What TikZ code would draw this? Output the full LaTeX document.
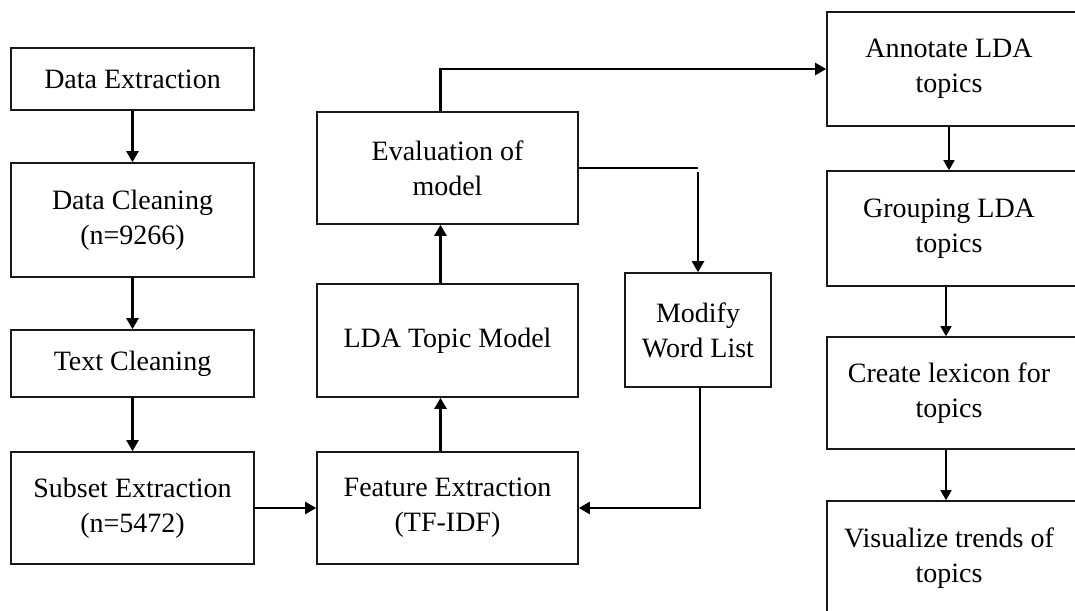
\documentclass[tikz,border=0pt]{standalone}
\usepackage{fontspec}
\setmainfont{Liberation Serif}
\usetikzlibrary{arrows.meta}
\tikzset{
  box/.style={draw=black!90, line width=1.6pt, fill=white, inner sep=0pt, align=center,
              font=\fontsize{28}{35}\selectfont},
  lbox/.style={box, minimum width=243pt},
  mbox/.style={box, minimum width=261pt},
  rbox/.style={box, minimum width=254pt},
  arr/.style={line width=2.2pt, -{Triangle[length=11pt,width=12pt]}},
  rarr/.style={line width=1.6pt, -{Triangle[length=10pt,width=11pt]}},
}
\newcommand{\sh}{\hspace*{10pt}}
\begin{document}
\begin{tikzpicture}[x=1pt,y=-1pt]
\useasboundingbox (0,0) rectangle (1075,610);
\fill[white] (0,0) rectangle (1075,610);
\clip (0,0) rectangle (1075,610);

% left column
\node[lbox, minimum height=62pt]  (de) at (132.5,79)  {Data Extraction};
\node[lbox, minimum height=114pt] (dc) at (132.5,220) {Data Cleaning\\(n=9266)};
\node[lbox, minimum height=67pt]  (tc) at (132.5,363.5) {Text Cleaning};
\node[lbox, minimum height=112pt] (se) at (132.5,508) {Subset Extraction\\(n=5472)};

% middle column
\node[mbox, minimum height=112pt] (ev)  at (447.5,168)   {Evaluation of\\model};
\node[mbox, minimum height=113pt] (lda) at (447.5,340.5) {LDA Topic Model};
\node[mbox, minimum height=112pt] (fe)  at (447.5,508)   {Feature Extraction\\(TF-IDF)};

\node[box, minimum width=146pt, minimum height=114pt] (mw) at (698,330) {Modify\\Word List};

% right column
\node[rbox, minimum height=114pt] (an) at (954,69)    {Annotate LDA\sh\\topics\sh};
\node[rbox, minimum height=115pt] (gr) at (954,228.5) {Grouping LDA\sh\\topics\sh};
\node[rbox, minimum height=112pt] (cl) at (954,393)   {Create lexicon for\sh\\topics\sh};
\node[rbox, minimum height=114pt] (vi) at (954,558)   {Visualize trends of\sh\\topics\sh};

% connectors
\draw[arr] (de) -- (dc);
\draw[arr] (dc) -- (tc);
\draw[arr] (tc) -- (se);
\draw[arr] (se) -- (fe);
\draw[arr] ([xshift=-7pt]fe.north) -- ([xshift=-7pt]lda.south);
\draw[arr] ([xshift=-7pt]lda.north) -- ([xshift=-7pt]ev.south);
\draw[arr] ([xshift=-7pt]ev.north) |- (an.west);
\draw[line width=1.4pt] (ev.east) -- (ev.east -| mw.north);
\draw[arr] ([yshift=-4pt]ev.east -| mw.north) -- (mw.north);
\draw[arr] ([xshift=2pt]mw.south) |- (fe.east);
\draw[rarr] ([xshift=-5pt]an.south) -- ([xshift=-5pt]gr.north);
\draw[rarr] ([xshift=-8pt]gr.south) -- ([xshift=-8pt]cl.north);
\draw[rarr] ([xshift=-8pt]cl.south) -- ([xshift=-8pt]vi.north);
\end{tikzpicture}
\end{document}
